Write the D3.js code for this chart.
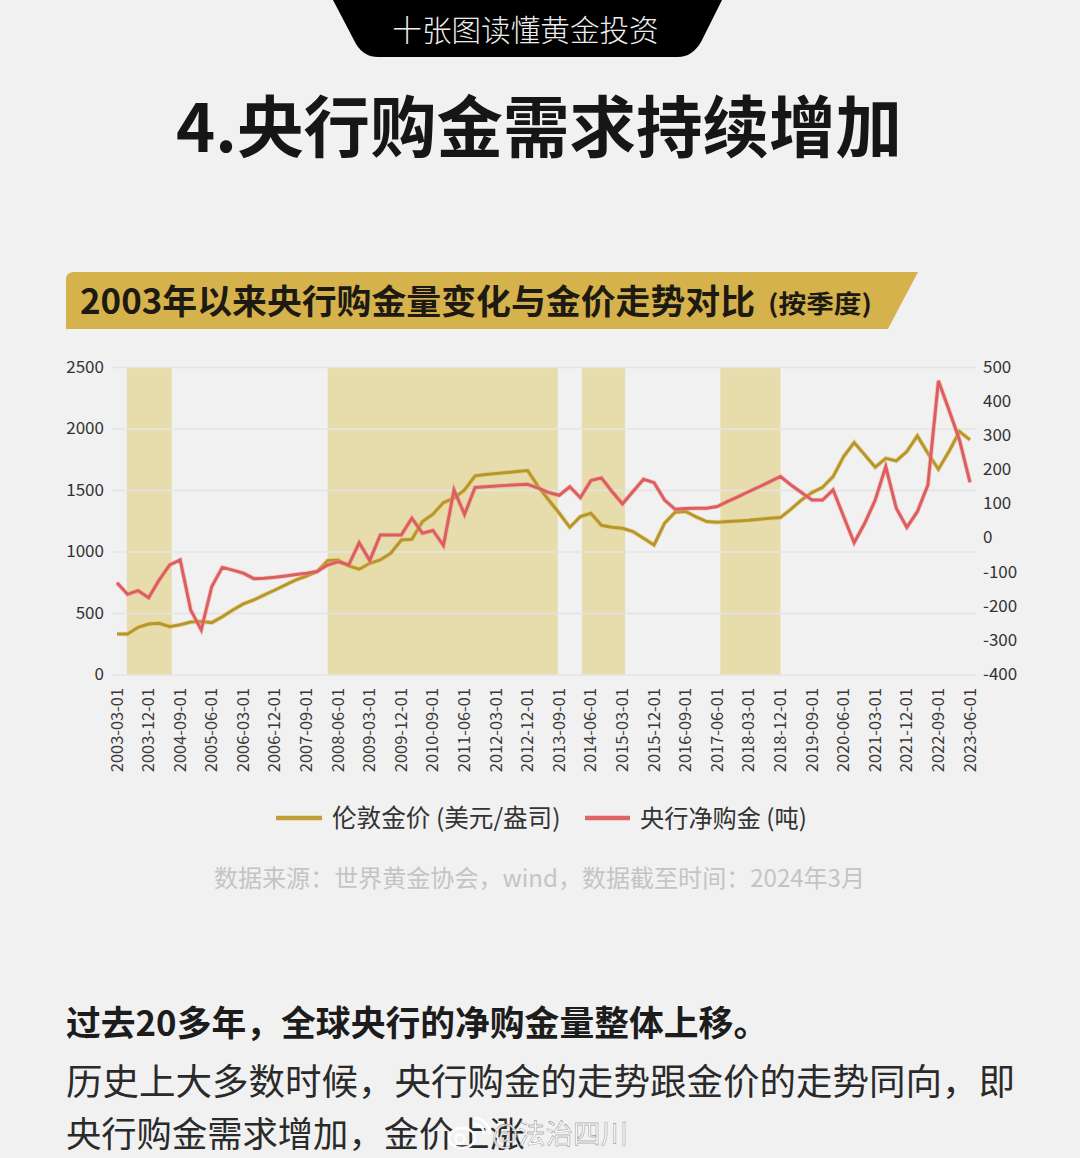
<!DOCTYPE html>
<html><head><meta charset="utf-8">
<script src="https://cdn.jsdelivr.net/npm/d3@7/dist/d3.min.js"></script>
<style>html,body{margin:0;padding:0;background:#f1f1f1;overflow:hidden}svg{display:block}text{font-family:"Noto Sans CJK SC","Noto Sans",sans-serif}</style>
</head><body><svg id="c" width="1080" height="1158"></svg>
<script>
const startYear=2003;
const goldPrice=[333,333,388,415,420,393,409,431,434,426,474,529,578,610,651,691,732,773,805,841,930,935,887,860,908,935,990,1098,1103,1247,1307,1402,1437,1505,1619,1630,1638,1646,1654,1662,1532,1423,1315,1201,1288,1315,1217,1201,1193,1166,1112,1057,1234,1323,1329,1285,1247,1242,1247,1252,1258,1266,1274,1280,1348,1423,1483,1526,1613,1776,1890,1790,1689,1762,1741,1817,1944,1803,1673,1817,1979,1912];
const cbNetBuying=[-130,-164,-153,-174,-122,-78,-63,-210,-268,-141,-85,-93,-102,-118,-117,-114,-110,-106,-102,-97,-78,-69,-78,-13,-65,10,10,10,59,15,23,-21,142,70,149,151,153,155,157,158,147,134,126,151,119,169,177,137,101,137,173,163,112,85,87,88,88,93,108,122,137,151,166,181,156,134,112,112,142,64,-13,44,112,210,88,32,78,156,461,376,288,164];
const bandRanges=[[0.93,5.2],[20,41.85],[44.15,48.25],[57.3,63]];
const leftTicks=[0,500,1000,1500,2000,2500];
const rightTicks=[-400,-300,-200,-100,0,100,200,300,400,500];
const seriesNames=["伦敦金价 (美元/盎司)","央行净购金 (吨)"];
const quarterLabels=goldPrice.map((_,i)=>{const m=3+3*i;const y=startYear+Math.floor((m-1)/12);const mm=((m-1)%12)+1;return y+"-"+String(mm).padStart(2,"0")+"-01";});
const tickLabels=quarterLabels.filter((_,i)=>i%3===0);

const svg=d3.select("#c");
// header
svg.append("path").attr("d","M333,0 L722,0 L701,42 Q692,57 678,57 L378,57 Q364,57 356,44 Z").attr("fill","#000");
svg.append("text").attr("x",525.5).attr("y",41).attr("text-anchor","middle").attr("fill","#eeeeee").attr("font-size",29.6).attr("font-weight",300).text("十张图读懂黄金投资");
svg.append("text").attr("x",539).attr("y",152).attr("text-anchor","middle").attr("fill","#161616").attr("font-size",66.5).attr("font-weight",700).text("4.央行购金需求持续增加");
// subtitle banner
svg.append("path").attr("d","M74,272 L918,272 L888,329 L66,329 L66,280 Q66,272 74,272 Z").attr("fill","#d6b24c");
svg.append("text").attr("x",80).attr("y",314).attr("fill","#1c1a12").attr("font-size",34.5).attr("font-weight",700).attr("textLength",675).attr("lengthAdjust","spacingAndGlyphs").text("2003年以来央行购金量变化与金价走势对比");
svg.append("text").attr("x",768).attr("y",313).attr("fill","#1c1a12").attr("font-size",25).attr("font-weight",700).attr("textLength",104).attr("lengthAdjust","spacingAndGlyphs").text("(按季度)");

// chart
const x=d3.scaleLinear().domain([0,goldPrice.length-1]).range([117,970]);
const yL=d3.scaleLinear().domain([0,2500]).range([675,367.5]);
const yR=d3.scaleLinear().domain([-400,500]).range([675,367.5]);
const g=svg.append("g");
g.append("g").selectAll("rect").data(bandRanges).join("rect")
 .attr("x",d=>x(d[0])).attr("width",d=>x(d[1])-x(d[0])).attr("y",yL(2500)).attr("height",yL(0)-yL(2500)).attr("fill","#e6dcac");
g.append("g").selectAll("line").data(leftTicks).join("line")
 .attr("x1",112).attr("x2",976).attr("y1",d=>yL(d)).attr("y2",d=>yL(d)).attr("stroke","#e4e4e4").attr("stroke-width",1.4);
g.append("g").selectAll("text").data(leftTicks).join("text")
 .attr("x",104).attr("y",d=>yL(d)+5).attr("text-anchor","end").attr("font-size",17).attr("fill","#333").text(d=>d);
g.append("g").selectAll("text").data(rightTicks).join("text")
 .attr("x",983).attr("y",d=>yR(d)+5).attr("font-size",17).attr("fill","#333").text(d=>d);
g.append("g").selectAll("text").data(tickLabels).join("text")
 .attr("transform",(d,i)=>`translate(${x(i*3)+5.5},688) rotate(-90)`).attr("text-anchor","end").attr("font-size",16.4).attr("fill","#3a3a3a").text(d=>d);
const lineGold=d3.line().x((d,i)=>x(i)).y(d=>yL(d));
const lineRed=d3.line().x((d,i)=>x(i)).y(d=>yR(d));
g.append("path").attr("d",lineGold(goldPrice)).attr("fill","none").attr("stroke","#e3c65a").attr("stroke-opacity",0.5).attr("stroke-width",4.6);
g.append("path").attr("d",lineGold(goldPrice)).attr("fill","none").attr("stroke","#b8962e").attr("stroke-width",3);
g.append("path").attr("d",lineRed(cbNetBuying)).attr("fill","none").attr("stroke","#f59a96").attr("stroke-opacity",0.5).attr("stroke-width",4.6);
g.append("path").attr("d",lineRed(cbNetBuying)).attr("fill","none").attr("stroke","#dc5f60").attr("stroke-width",3);

// legend
const lg=svg.append("g");
lg.append("line").attr("x1",276).attr("x2",322).attr("y1",818).attr("y2",818).attr("stroke","#c29e38").attr("stroke-width",4.5);
lg.append("text").attr("x",332).attr("y",827).attr("font-size",24.6).attr("fill","#333").text(seriesNames[0]);
lg.append("line").attr("x1",585).attr("x2",630).attr("y1",818).attr("y2",818).attr("stroke","#e06464").attr("stroke-width",4.5);
lg.append("text").attr("x",640).attr("y",827).attr("font-size",24.2).attr("fill","#333").text(seriesNames[1]);
// source
svg.append("text").attr("x",214).attr("y",887).attr("font-size",24).attr("fill","#c4c4c4").attr("textLength",651).attr("lengthAdjust","spacingAndGlyphs").text("数据来源：世界黄金协会，wind，数据截至时间：2024年3月");
// body
svg.append("text").attr("x",66).attr("y",1036).attr("font-size",34.8).attr("font-weight",700).attr("fill","#1c1c1c").text("过去20多年，全球央行的净购金量整体上移。");
svg.append("text").attr("x",66).attr("y",1095).attr("font-size",36.5).attr("fill","#2a2a2a").text("历史上大多数时候，央行购金的走势跟金价的走势同向，即");
svg.append("text").attr("x",66).attr("y",1147).attr("font-size",35.3).attr("fill","#2a2a2a").text("央行购金需求增加，金价上涨");
// watermark
const wm=svg.append("g").attr("fill","none").attr("stroke","#fff").attr("stroke-width",2.4).attr("stroke-opacity",0.95);
wm.append("ellipse").attr("cx",462).attr("cy",1138).attr("rx",13).attr("ry",10);
wm.append("circle").attr("cx",460).attr("cy",1139).attr("r",4.5);
wm.append("path").attr("d","M474,1124 A10,10 0 0 1 484,1134");
wm.append("path").attr("d","M474,1118 A16,16 0 0 1 490,1134");
svg.append("text").attr("x",492).attr("y",1144).attr("font-size",27.5).attr("fill","#ffffff").attr("fill-opacity",0.92).attr("stroke","#777").attr("stroke-width",0.4).text("@法治四川");
</script></body></html>
